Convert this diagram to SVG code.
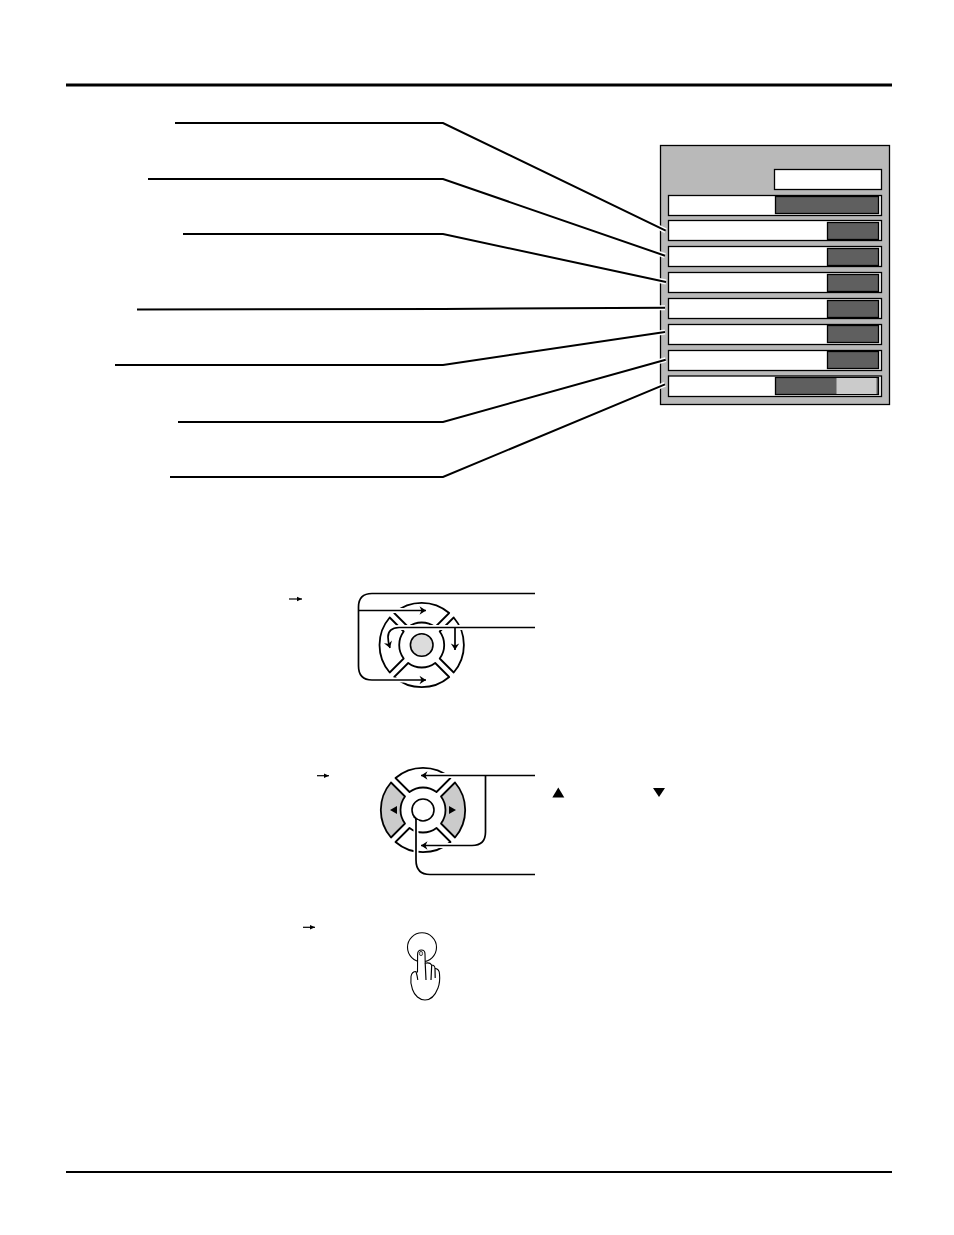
<svg xmlns="http://www.w3.org/2000/svg" width="954" height="1235" viewBox="0 0 954 1235">
<style>
.rule{stroke:#000;fill:none}
.lead{stroke:#000;stroke-width:2;fill:none}
.halo{stroke:#fff;stroke-width:5;fill:none}
.row{fill:#fff;stroke:#000;stroke-width:1.3}
.dark{fill:#5f5f5f;stroke:#000;stroke-width:1.3}
.pad{fill:#fff;stroke:#000;stroke-width:1.8;stroke-linejoin:round}
.grey{fill:#cbcbcb;stroke:#000;stroke-width:1.8;stroke-linejoin:round}
.conn{stroke:#000;stroke-width:1.7;fill:none}
.thin{stroke:#000;stroke-width:1.2;fill:none}
</style>
<defs>
<marker id="ah" markerUnits="userSpaceOnUse" markerWidth="9" markerHeight="10" refX="7" refY="5" orient="auto"><path d="M0.5 0.8L7 5L0.5 9.2L2.5 5Z" fill="#000"/></marker>
<marker id="sa" markerUnits="userSpaceOnUse" markerWidth="6" markerHeight="6" refX="5" refY="3" orient="auto"><path d="M0 0.8L5 3L0 5.2Z" fill="#000"/></marker>
<path id="s-l" d="M-32-27.5A42.2 42.2 0 0 0-32 27.5L-18 13.5A22.5 22.5 0 0 1-18-13.5Z"/>
<path id="s-r" d="M32-27.5A42.2 42.2 0 0 1 32 27.5L18 13.5A22.5 22.5 0 0 0 18-13.5Z"/>
<path id="s-t" d="M-27.5-32A42.2 42.2 0 0 1 27.5-32L13.5-18A22.5 22.5 0 0 0-13.5-18Z"/>
<path id="s-b" d="M-27.5 32A42.2 42.2 0 0 0 27.5 32L13.5 18A22.5 22.5 0 0 1-13.5 18Z"/>
</defs>

<g id="rules">
<line class="rule" x1="66" y1="85" x2="892" y2="85" stroke-width="3"/>
<line class="rule" x1="66" y1="1172" x2="892" y2="1172" stroke-width="2"/>
</g>

<g id="menu-panel">
<rect x="660.5" y="145.5" width="229" height="259" fill="#b9b9b9" stroke="#000" stroke-width="1.3"/>
<rect class="row" x="774.5" y="169.5" width="107" height="20"/>
<rect class="row" x="668.5" y="195.5" width="213" height="20"/>
<rect class="dark" x="775.5" y="196.5" width="103" height="17"/>
<rect class="row" x="668.5" y="220.5" width="213" height="20"/>
<rect class="dark" x="827.5" y="222.5" width="51" height="17"/>
<rect class="row" x="668.5" y="246.5" width="213" height="20"/>
<rect class="dark" x="827.5" y="248.5" width="51" height="17"/>
<rect class="row" x="668.5" y="272.5" width="213" height="20"/>
<rect class="dark" x="827.5" y="274.5" width="51" height="17"/>
<rect class="row" x="668.5" y="298.5" width="213" height="20"/>
<rect class="dark" x="827.5" y="300.5" width="51" height="17"/>
<rect class="row" x="668.5" y="324.5" width="213" height="20"/>
<rect class="dark" x="827.5" y="325.5" width="51" height="17"/>
<rect class="row" x="668.5" y="350.5" width="213" height="20"/>
<rect class="dark" x="827.5" y="351.5" width="51" height="17"/>
<rect class="row" x="668.5" y="376" width="213" height="20.5"/>
<rect class="dark" x="775.5" y="377.5" width="103" height="17"/>
<rect x="836.5" y="378" width="40" height="16" fill="#cbcbcb"/>
</g>

<g id="pad-1" transform="translate(421.7 645)">
<use href="#s-l" class="pad"/><use href="#s-r" class="pad"/><use href="#s-t" class="pad"/><use href="#s-b" class="pad"/>
<circle r="11.3" fill="#dcdcdc" stroke="#000" stroke-width="1.6"/>
</g>

<g id="pad-2" transform="translate(423 810)">
<use href="#s-l" class="grey"/><use href="#s-r" class="grey"/><use href="#s-t" class="pad"/><use href="#s-b" class="pad"/>
<circle r="11" fill="#fff" stroke="#000" stroke-width="1.6"/>
<path d="M-33 0L-26-4V4Z" fill="#000"/>
<path d="M26-4L33 0L26 4Z" fill="#000"/>
</g>

<g id="button">
<circle cx="422" cy="947.3" r="14.5" fill="#fff" stroke="#000" stroke-width="1.1"/>
</g>
<g id="hand">
<path d="M417.5 972.5L417.6 954C417.8 948.7 425 948.7 425 954L425.2 963.3C428 962.5 430.5 963.2 431.7 965C433.5 965 434.8 966.5 435 968.3C437.5 968.8 439.5 971 439.5 974C440 979 439.5 984 438 988C435.5 994.5 431 1000 425 1000C419.5 1000 414.5 995.5 412.5 989.5C410.8 985 410.5 980 411 976.5C411.5 973.5 413.5 971.5 416 971.5C417 975 417.6 978 417.8 980" fill="#fff" stroke="#000" stroke-width="1.1" stroke-linejoin="round"/>
<path class="thin" d="M425.2 963.3L426 980M431.7 965L431 980M435 968.3L435.2 978"/>
<ellipse cx="421" cy="953.5" rx="1.6" ry="2.2" fill="#ddd" stroke="#000" stroke-width="0.7"/>
</g>

<g id="connectors">
<path class="halo" d="M443 123L665.7 230.7M443 179L665 255.7M443 234L666 282M443 309L665 307.7M443 365L665 332M443 422L665.7 359.7M443 477L665 384.3" stroke-width="4"/>
<path class="lead" d="M175 123H443L665.7 230.7"/>
<path class="lead" d="M148 179H443L665 255.7"/>
<path class="lead" d="M183 234H443L666 282"/>
<path class="lead" d="M137 309.5L443 309L665 307.7"/>
<path class="lead" d="M115 365H443L665 332"/>
<path class="lead" d="M178 422H443L665.7 359.7"/>
<path class="lead" d="M170 477H443L665 384.3"/>

<path class="halo" d="M362 610.5H425M372 680H425M470 627.5H399Q388 628 388 637Q388 642 390 647M455 628V647"/>
<path class="conn" d="M535 593.5H372Q358.5 593.5 358.5 607V666Q358.5 680 372 680H426" marker-end="url(#ah)"/>
<path class="conn" d="M358.5 610.5H426" marker-end="url(#ah)"/>
<path class="conn" d="M535 627.5H399Q388 628 388 637Q388 642 390 648" marker-end="url(#ah)"/>
<path class="conn" d="M455 628V650" marker-end="url(#ah)"/>

<path class="halo" d="M424 775.5H460M424 845.5H460M416 820V862"/>
<path class="conn" d="M535 775.5H421" stroke-width="2" marker-end="url(#ah)"/>
<path class="conn" d="M485.5 775.5V832Q485.5 845.5 472 845.5H421" marker-end="url(#ah)"/>
<path class="conn" d="M535 874.5H430Q416 874.5 416 860V820Q416 817 413.5 817"/>
</g>

<g id="glyphs">
<line class="thin" x1="289" y1="599" x2="302" y2="599" marker-end="url(#sa)"/>
<line class="thin" x1="317" y1="775.7" x2="329" y2="775.7" marker-end="url(#sa)"/>
<line class="thin" x1="303" y1="927.3" x2="315" y2="927.3" marker-end="url(#sa)"/>
<path d="M558.3 787.5L564.3 797.5H552.3Z" fill="#000"/>
<path d="M653 788H665L659 797Z" fill="#000"/>
</g>
</svg>
